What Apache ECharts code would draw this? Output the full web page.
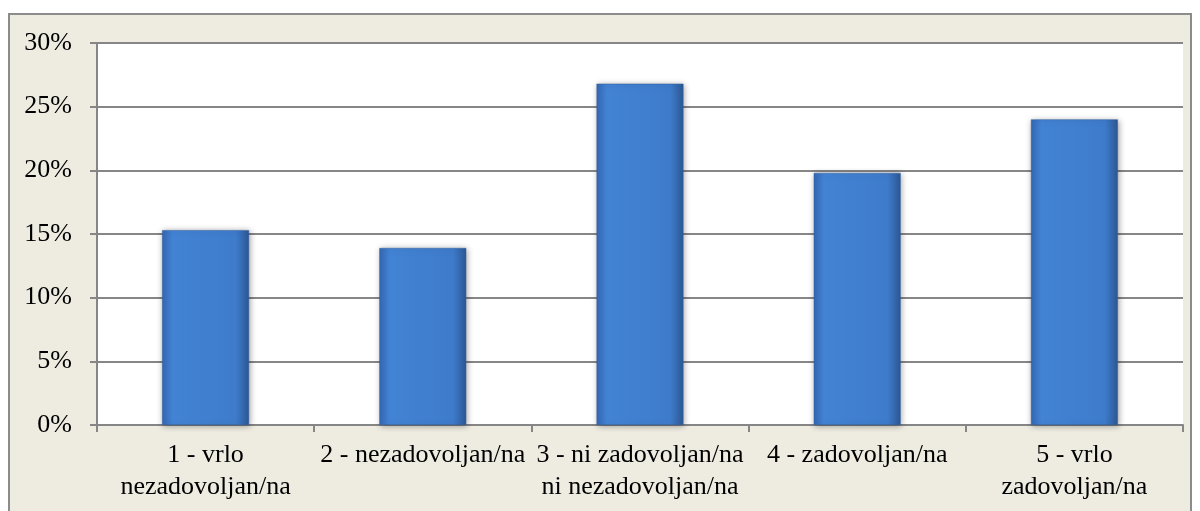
<!DOCTYPE html>
<html>
<head>
<meta charset="utf-8">
<script src="https://cdn.jsdelivr.net/npm/echarts@6/dist/echarts.min.js"></script>
<style>
html,body{margin:0;padding:0;background:#ffffff;}
#chart{width:1200px;height:511px;}
</style>
</head>
<body>
<div id="chart"></div>
<script>
const categories = [
  "1 - vrlo\nnezadovoljan/na",
  "2 - nezadovoljan/na",
  "3 - ni zadovoljan/na\nni nezadovoljan/na",
  "4 - zadovoljan/na",
  "5 - vrlo\nzadovoljan/na"
];
const values = [15.3, 13.9, 26.8, 19.8, 24.0];
const yTicks = { min: 0, max: 30, interval: 5 };

const chart = echarts.init(document.getElementById('chart'), null, { renderer: 'canvas' });
const font = '"Liberation Serif", "Times New Roman", serif';
const barColor = new echarts.graphic.LinearGradient(0, 0, 1, 0, [
  { offset: 0, color: '#3468B4' },
  { offset: 0.12, color: '#4383D4' },
  { offset: 0.85, color: '#3E7BCB' },
  { offset: 1, color: '#2C5894' }
]);
chart.setOption({
  animation: false,
  backgroundColor: '#ffffff',
  graphic: [{
    type: 'rect',
    z: -10,
    silent: true,
    shape: { x: 9, y: 14, width: 1182, height: 520 },
    style: { fill: '#EEECE1', stroke: '#8C8C8C', lineWidth: 2 }
  }],
  grid: {
    left: 97, right: 17, top: 43, bottom: 86,
    show: true, backgroundColor: '#ffffff', borderWidth: 0
  },
  xAxis: {
    type: 'category',
    data: categories,
    axisLine: { lineStyle: { color: '#868686', width: 2 } },
    axisTick: { show: true, length: 7, lineStyle: { color: '#868686', width: 2 } },
    axisLabel: {
      interval: 0, margin: 14,
      fontFamily: font, fontSize: 26, color: '#000', lineHeight: 32
    }
  },
  yAxis: {
    type: 'value',
    min: yTicks.min, max: yTicks.max, interval: yTicks.interval,
    axisLine: { show: true, lineStyle: { color: '#868686', width: 2 } },
    axisTick: { show: true, length: 7, lineStyle: { color: '#868686', width: 2 } },
    splitLine: { lineStyle: { color: '#868686', width: 2 } },
    axisLabel: {
      margin: 25, formatter: '{value}%',
      fontFamily: font, fontSize: 26, color: '#000'
    }
  },
  series: [{
    type: 'bar',
    data: values,
    barWidth: '40%',
    itemStyle: {
      color: barColor,
      borderColor: '#2F5E9E',
      borderWidth: 0.5,
      shadowColor: 'rgba(0,0,0,0.35)',
      shadowBlur: 6,
      shadowOffsetX: 1,
      shadowOffsetY: 1
    }
  }]
});
</script>
</body>
</html>
